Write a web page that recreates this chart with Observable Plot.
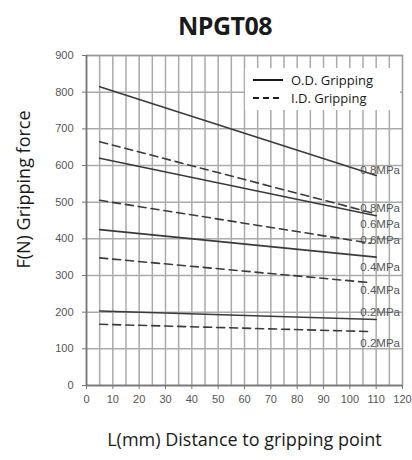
<!DOCTYPE html>
<html>
<head>
<meta charset="utf-8">
<script src="https://cdn.jsdelivr.net/npm/d3@7"></script>
<script src="https://cdn.jsdelivr.net/npm/@observablehq/plot@0.6"></script>
<style>
  html, body { margin: 0; padding: 0; background: #fff; }
  #wrap { position: relative; width: 412px; height: 460px; background: #fff; }
  #title { position: absolute; left: 0; top: 13px; width: 450px; text-align: center;
    font: bold 25px/25px "Open Sans", sans-serif; color: #1a1a1a; letter-spacing: -0.5px; }
  #chart { position: absolute; left: 0; top: 45px; }
  #legend { position: absolute; left: 245px; top: 68px; width: 155px; height: 42px; background: #fff;
    font: 13px/18px "Open Sans", sans-serif; color: #1a1a1a; }
  #legend .row { position: absolute; left: 8px; height: 18px; display: flex; align-items: center; }
  #legend svg { margin-right: 8px; }
</style>
</head>
<body>
<div id="wrap">
  <div id="title"></div>
  <div id="chart"></div>
  <div id="legend"></div>
</div>
<script>
// ---- data ----
const chartTitle = "NPGT08";
const yLabel = "F(N) Gripping force";
const xLabel = "L(mm) Distance to gripping point";
const pressures = ["0.8MPa", "0.6MPa", "0.4MPa", "0.2MPa"];
const xStart = 5;
const odEndX = [110, 110, 110, 110];
const idEndX = [110, 108, 107, 108];
const odStart = [815, 620, 425, 203];
const odEnd   = [573, 463, 350, 180];
const idStart = [665, 505, 348, 167];
const idEnd   = [468, 388, 281, 147];
const odLabelY = [586, 439, 322, 199];
const idLabelY = [483, 395, 259, 115];
const labelX = 104;
const xTicks = [0, 10, 20, 30, 40, 50, 60, 70, 80, 90, 100, 110, 120];
const xGridTicks = [5, 10, 15, 20, 25, 30, 35, 40, 45, 50, 55, 60, 65, 70, 75, 80, 85, 90, 95, 100, 105, 110, 115];
const yTicks = [0, 100, 200, 300, 400, 500, 600, 700, 800, 900];
const legendItems = ["O.D. Gripping", "I.D. Gripping"];

// ---- build tables ----
const od = pressures.flatMap((p, i) => [
  {p, x: xStart, y: odStart[i]}, {p, x: odEndX[i], y: odEnd[i]}
]);
const id = pressures.flatMap((p, i) => [
  {p, x: xStart, y: idStart[i]}, {p, x: idEndX[i], y: idEnd[i]}
]);
const labels = pressures.flatMap((p, i) => [
  {p, x: labelX, y: odLabelY[i]}, {p, x: labelX, y: idLabelY[i]}
]);

document.getElementById("title").textContent = chartTitle;

const lineColor = "#3a3a3a";
const gridColor = "#aaaaaa";
const chart = Plot.plot({
  width: 412,
  height: 415,
  marginLeft: 86,
  marginRight: 10,
  marginTop: 10,
  marginBottom: 75,
  x: {domain: [0, 120]},
  y: {domain: [0, 900]},
  style: {fontFamily: "'Liberation Sans', Arial, sans-serif", fontSize: "11px"},
  marks: [
    Plot.ruleX(xGridTicks, {stroke: gridColor, strokeWidth: 1.5}),
    Plot.ruleY(yTicks, {stroke: gridColor, strokeWidth: 1.5}),
    Plot.frame({stroke: "#999", strokeWidth: 1.5}),
    Plot.ruleX([0], {stroke: "#777", strokeWidth: 1.6}),
    Plot.ruleY([0], {stroke: "#777", strokeWidth: 1.6}),
    Plot.axisX(xTicks, {tickSize: 4, tickPadding: 6, label: null, stroke: "#777", fill: "#555"}),
    Plot.axisY(yTicks, {tickSize: 4, tickPadding: 9, label: null, stroke: "#777", fill: "#555"}),
    Plot.line(od, {x: "x", y: "y", z: "p", stroke: lineColor, strokeWidth: 1.6}),
    Plot.line(id, {x: "x", y: "y", z: "p", stroke: lineColor, strokeWidth: 1.6, strokeDasharray: "8,5"}),
    Plot.text(labels, {x: "x", y: "y", text: "p", textAnchor: "start", fill: "#555", fontSize: 11.5,
      fontFamily: "'Liberation Sans', Arial, sans-serif"}),
    Plot.text([yLabel], {frameAnchor: "left", rotate: -90, dx: -62, dy: -31, textAnchor: "middle",
      lineAnchor: "middle", fontSize: 18, fontFamily: "'Open Sans', sans-serif", fill: "#1a1a1a"}),
    Plot.text([xLabel], {frameAnchor: "bottom", dy: 55, textAnchor: "middle", lineAnchor: "middle",
      fontSize: 18, fontFamily: "'Open Sans', sans-serif", fill: "#1a1a1a"})
  ]
});
document.getElementById("chart").appendChild(chart);

// legend
const legend = document.getElementById("legend");
legendItems.forEach((name, i) => {
  const row = document.createElement("div");
  row.className = "row";
  row.style.top = (3 + i * 18) + "px";
  const dash = i === 0 ? "" : ' stroke-dasharray="6,4"';
  row.innerHTML = `<svg width="30" height="4"><line x1="0" x2="30" y1="2" y2="2" stroke="#1a1a1a" stroke-width="2"${dash}/></svg><span>${name}</span>`;
  legend.appendChild(row);
});
</script>
</body>
</html>
